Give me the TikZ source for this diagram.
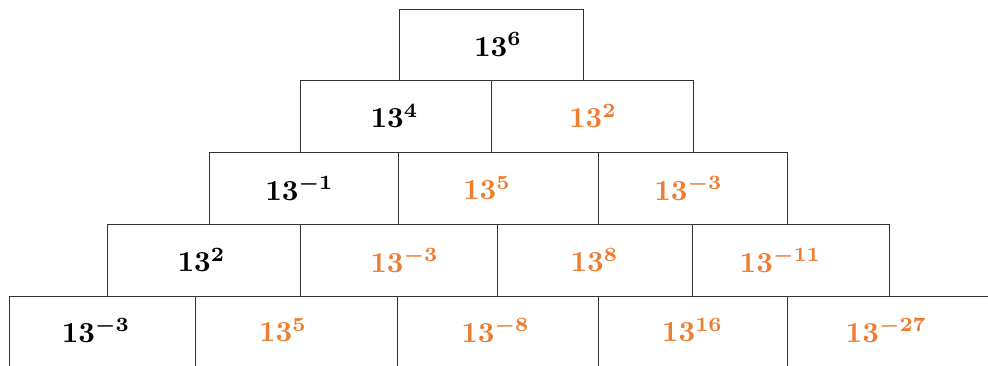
\documentclass[tikz,border=0pt]{standalone}
\definecolor{orng}{RGB}{237,125,49}
\newcommand{\pw}[1]{\scalebox{2.9}{\boldmath$13^{#1}$}}
\tikzset{
  cell/.style={draw=black!80, line width=0.8pt, rectangle, inner sep=0pt, outer sep=0pt, anchor=north west},
  num/.style={inner sep=0pt, text=black},
  onum/.style={num, text=orng}
}
\begin{document}
\begin{tikzpicture}[x=1pt, y=-1pt]
\clip (0,0) rectangle (988,365);
% row 0
\node[cell, minimum width=184pt, minimum height=71pt] (c00) at (399,9) {};
% row 1
\node[cell, minimum width=191pt, minimum height=72pt] (c10) at (300,80) {};
\node[cell, minimum width=202pt, minimum height=72pt] (c11) at (491,80) {};
% row 2
\node[cell, minimum width=189pt, minimum height=72pt] (c20) at (209,152) {};
\node[cell, minimum width=200pt, minimum height=72pt] (c21) at (398,152) {};
\node[cell, minimum width=189pt, minimum height=72pt] (c22) at (598,152) {};
% row 3
\node[cell, minimum width=193pt, minimum height=72pt] (c30) at (107,224) {};
\node[cell, minimum width=197pt, minimum height=72pt] (c31) at (300,224) {};
\node[cell, minimum width=195pt, minimum height=72pt] (c32) at (497,224) {};
\node[cell, minimum width=197pt, minimum height=72pt] (c33) at (692,224) {};
% row 4
\node[cell, minimum width=186pt, minimum height=74pt] (c40) at (9,296) {};
\node[cell, minimum width=202pt, minimum height=74pt] (c41) at (195,296) {};
\node[cell, minimum width=201pt, minimum height=74pt] (c42) at (397,296) {};
\node[cell, minimum width=189pt, minimum height=74pt] (c43) at (598,296) {};
\node[cell, minimum width=205pt, minimum height=74pt] (c44) at (787,296) {};
% labels
\node[num]  (t00) at ([xshift=7pt]c00.center) {\pw{6}};
\node[num]  (t10) at ([xshift=-1pt]c10.center) {\pw{4}};
\node[onum] (t11) at ([xshift=1pt]c11.center) {\pw{2}};
\node[num]  (t20) at ([xshift=-4pt]c20.center) {\pw{-1}};
\node[onum] (t21) at ([xshift=-11pt]c21.center) {\pw{5}};
\node[onum] (t22) at ([xshift=-4pt]c22.center) {\pw{-3}};
\node[num]  (t30) at ([xshift=-2pt]c30.center) {\pw{2}};
\node[onum] (t31) at ([xshift=6pt]c31.center) {\pw{-3}};
\node[onum] (t32) at (c32.center) {\pw{8}};
\node[onum] (t33) at ([xshift=-10pt]c33.center) {\pw{-11}};
\node[num]  (t40) at ([xshift=-6pt,yshift=3pt]c40.center) {\pw{-3}};
\node[onum] (t41) at ([xshift=-13pt,yshift=3pt]c41.center) {\pw{5}};
\node[onum] (t42) at ([xshift=-2pt,yshift=3pt]c42.center) {\pw{-8}};
\node[onum] (t43) at ([yshift=3pt]c43.center) {\pw{16}};
\node[onum] (t44) at ([xshift=-3pt,yshift=3pt]c44.center) {\pw{-27}};
\end{tikzpicture}
\end{document}
